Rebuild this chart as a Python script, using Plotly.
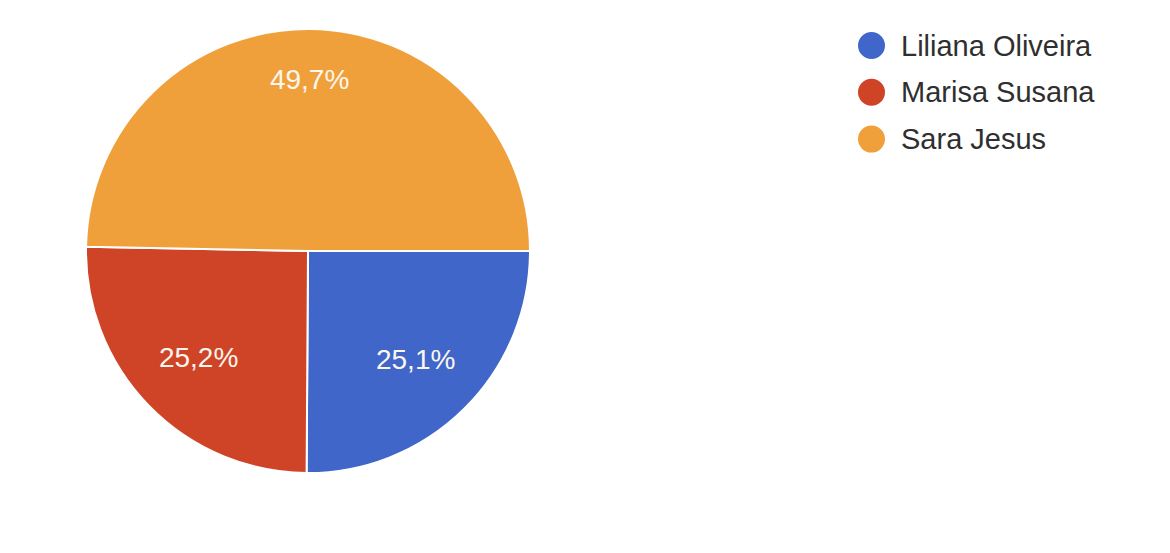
import plotly.graph_objects as go

# ---- data ----
labels = ["Liliana Oliveira", "Marisa Susana", "Sara Jesus"]
values = [25.1, 25.2, 49.7]
colors = ["#3f66c8", "#cf4426", "#f0a03b"]

W, H = 1170, 553
OFF = 8  # page body margin offset in the browser
FONT = "Liberation Sans, Arial, sans-serif"

# pie geometry (screen pixels in the reference)
cx, cy, R = 308, 251, 222
dom = dict(x=[(cx - R - OFF) / W, (cx + R - OFF) / W],
           y=[1 - (cy + R - OFF) / H, 1 - (cy - R - OFF) / H])

fig = go.Figure()
fig.add_trace(go.Pie(
    labels=labels,
    values=values,
    marker=dict(colors=colors, line=dict(color="#ffffff", width=2)),
    sort=False,
    direction="clockwise",
    rotation=90,
    textinfo="none",
    showlegend=False,
    hoverinfo="label+percent",
    domain=dom,
))

# transparent overlay pies that only carry the percentage labels,
# with holes chosen so the labels sit at the reference radius
label_sets = [
    (0.376, ["%{percent:.1%}", "%{percent:.1%}", ""]),
    (0.548, ["", "", "%{percent:.1%}"]),
]
for hole, tmpl in label_sets:
    fig.add_trace(go.Pie(
        labels=labels,
        values=values,
        hole=hole,
        marker=dict(colors=["rgba(0,0,0,0)"] * len(labels), line=dict(width=0)),
        sort=False,
        direction="clockwise",
        rotation=90,
        texttemplate=tmpl,
        textposition="inside",
        insidetextorientation="horizontal",
        textfont=dict(family=FONT, size=28, color="#fbf6ee"),
        showlegend=False,
        hoverinfo="skip",
        domain=dom,
    ))

# custom legend with round symbols (layout elements built from the category list)
shapes = []
annotations = []
leg_x = 871.5 - OFF
leg_y0 = 45.5 - OFF
leg_step = 46.8
r = 13.5
for i, (lab, col) in enumerate(zip(labels, colors)):
    yy = leg_y0 + i * leg_step
    shapes.append(dict(
        type="circle", xref="paper", yref="paper",
        x0=(leg_x - r) / W, x1=(leg_x + r) / W,
        y0=1 - (yy + r) / H, y1=1 - (yy - r) / H,
        fillcolor=col, line=dict(width=0),
    ))
    annotations.append(dict(
        x=(899 - OFF) / W, y=1 - yy / H, xref="paper", yref="paper",
        xanchor="left", yanchor="middle", showarrow=False,
        text=lab, font=dict(family=FONT, size=29, color="#2f2f2f"),
    ))

fig.update_layout(
    width=W, height=H,
    margin=dict(l=0, r=0, t=0, b=0),
    paper_bgcolor="#ffffff",
    plot_bgcolor="#ffffff",
    separators=",.",
    font=dict(family=FONT),
    shapes=shapes,
    annotations=annotations,
)

fig.write_html("out.html")
